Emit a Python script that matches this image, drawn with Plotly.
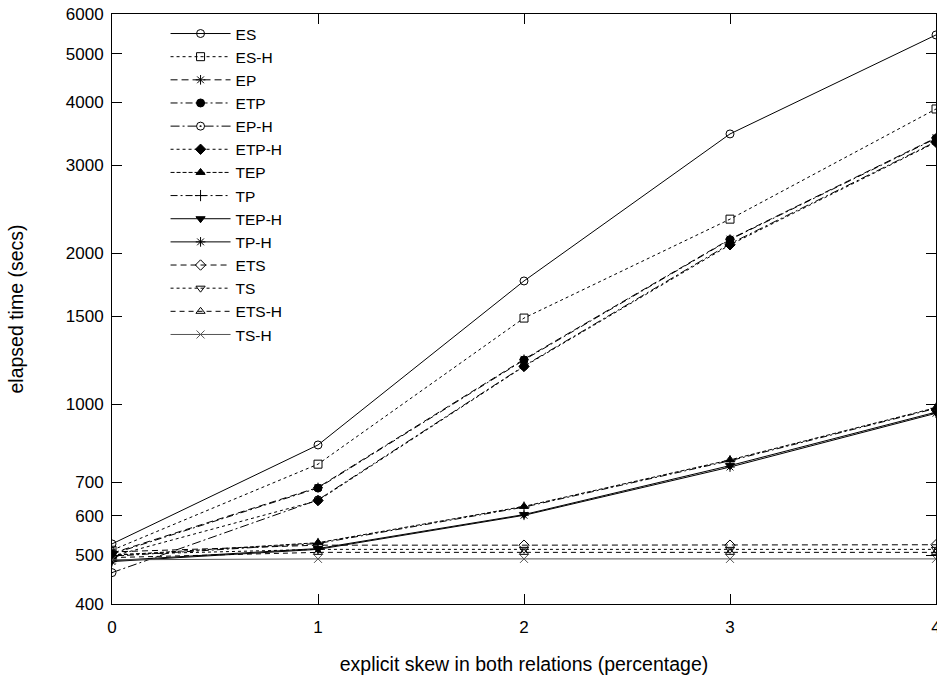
import plotly.graph_objects as go
import numpy as np

x_vals = [0, 1, 2, 3, 4]

series_names = ["ES", "ES-H", "EP", "ETP", "EP-H", "ETP-H", "TEP", "TP",
                "TEP-H", "TP-H", "ETS", "TS", "ETS-H", "TS-H"]

ES = [527, 830, 1762, 3460, 5450]
ES_H = [512, 760, 1486, 2340, 3880]
EP = [505, 683, 1230, 2135, 3400]
ETP = [503, 681, 1226, 2130, 3390]
EP_H = [462, 645, 1193, 2090, 3340]
ETP_H = [498, 643, 1190, 2080, 3330]
TEP = [500, 530, 626, 775, 985]
TP = [498, 528, 624, 772, 982]
TEP_H = [488, 516, 603, 755, 965]
TP_H = [486, 514, 601, 750, 960]
ETS = [508, 524, 524, 524, 525]
TS = [502, 514, 514, 514, 514]
ETS_H = [495, 507, 507, 507, 507]
TS_H = [490, 492, 492, 492, 492]

series_values = [ES, ES_H, EP, ETP, EP_H, ETP_H, TEP, TP,
                 TEP_H, TP_H, ETS, TS, ETS_H, TS_H]

y_tick_vals = [400, 500, 600, 700, 1000, 1500, 2000, 3000, 4000, 5000, 6000]
x_tick_vals = [0, 1, 2, 3, 4]

styles = {
    "ES":    dict(dash="solid", symbol="circle-open", color="black"),
    "ES-H":  dict(dash="3px,3px", symbol="square-open", color="black"),
    "EP":    dict(dash="7px,4px", symbol="asterisk-open", color="black"),
    "ETP":   dict(dash="7px,3px,2px,3px", symbol="circle", color="black"),
    "EP-H":  dict(dash="9px,3px,2px,3px", symbol="circle-open-dot", color="black"),
    "ETP-H": dict(dash="3px,3px", symbol="diamond", color="black"),
    "TEP":   dict(dash="4px,2px", symbol="triangle-up", color="black"),
    "TP":    dict(dash="7px,3px,2px,3px", symbol="cross-thin-open", color="black"),
    "TEP-H": dict(dash="solid", symbol="triangle-down", color="black"),
    "TP-H":  dict(dash="solid", symbol="asterisk-open", color="black"),
    "ETS":   dict(dash="6px,4px", symbol="diamond-open", color="black"),
    "TS":    dict(dash="3px,3px", symbol="triangle-down-open", color="black"),
    "ETS-H": dict(dash="5px,4px", symbol="triangle-up-open", color="black"),
    "TS-H":  dict(dash="solid", symbol="x-thin-open", color="#555555"),
}

fig = go.Figure()
for name, vals in zip(series_names, series_values):
    st = styles[name]
    fig.add_trace(go.Scatter(
        x=x_vals, y=vals, name=name, mode="lines+markers",
        line=dict(color=st["color"], width=1, dash=st["dash"]),
        marker=dict(symbol=st["symbol"], size=8, color=st["color"],
                    line=dict(color=st["color"], width=1)),
    ))

font_family = "Liberation Sans, Arial, sans-serif"

fig.update_layout(
    width=937, height=683,
    margin=dict(l=112, r=1, t=14, b=79, autoexpand=False),
    paper_bgcolor="white", plot_bgcolor="white",
    font=dict(family=font_family, size=17, color="black"),
    showlegend=True,
    legend=dict(x=0.065, y=0.995, xanchor="left", yanchor="top",
                bgcolor="rgba(0,0,0,0)", borderwidth=0,
                font=dict(size=15.5), tracegroupgap=0, itemwidth=60),
    xaxis=dict(
        range=[0, 4], tickmode="array", tickvals=x_tick_vals,
        ticktext=[str(v) for v in x_tick_vals],
        ticks="inside", ticklen=10, tickcolor="black",
        showline=True, linecolor="black", linewidth=1, mirror="allticks",
        showgrid=False, zeroline=False, ticklabeloverflow="allow",
        ticklabelstandoff=8, automargin=False,
        title=dict(text="explicit skew in both relations (percentage)",
                   font=dict(size=19.5), standoff=20),
        tickfont=dict(size=17),
    ),
    yaxis=dict(
        type="log", range=[np.log10(400), np.log10(6000)],
        tickmode="array", tickvals=y_tick_vals,
        ticktext=[str(v) for v in y_tick_vals],
        ticks="inside", ticklen=10, tickcolor="black",
        showline=True, linecolor="black", linewidth=1, mirror="allticks",
        showgrid=False, zeroline=False, ticklabeloverflow="allow",
        ticklabelstandoff=4, automargin=False,
        title=dict(text="elapsed time (secs)", font=dict(size=19.5), standoff=36),
        tickfont=dict(size=17),
    ),
)

fig.write_html("out.html",
               config={"displayModeBar": False},
               post_script="document.body.style.margin='0';")
